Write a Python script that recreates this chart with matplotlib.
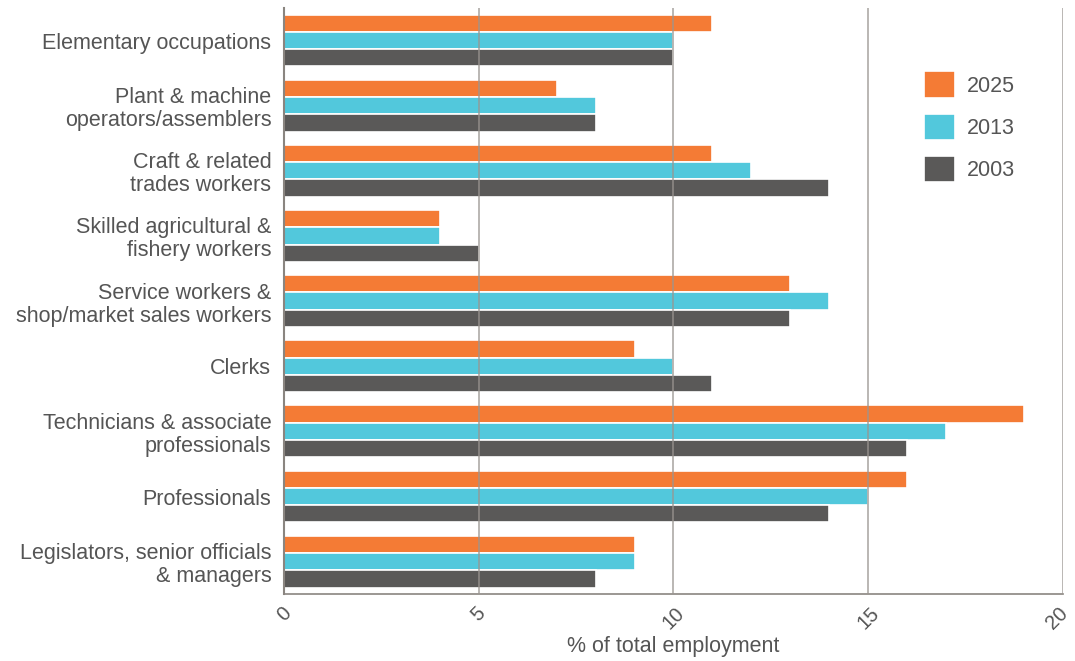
import numpy as np
import matplotlib.pyplot as plt
import matplotlib.transforms as mtransforms

categories = [
    "Elementary occupations",
    "Plant & machine\noperators/assemblers",
    "Craft & related\ntrades workers",
    "Skilled agricultural &\nfishery workers",
    "Service workers &\nshop/market sales workers",
    "Clerks",
    "Technicians & associate\nprofessionals",
    "Professionals",
    "Legislators, senior officials\n& managers",
]
years = ["2025", "2013", "2003"]
vals_2025 = [11, 7, 11, 4, 13, 9, 19, 16, 9]
vals_2013 = [10, 8, 12, 4, 14, 10, 17, 15, 9]
vals_2003 = [10, 8, 14, 5, 13, 11, 16, 14, 8]
colors = ["#F47B35", "#52C8DC", "#5A5958"]

plt.rcParams['font.family'] = ['Liberation Sans', 'DejaVu Sans']
text_col = "#555555"
fs = 15.5

fig = plt.figure(figsize=(10.75, 6.61), dpi=100)
ax = fig.add_axes([0.264, 0.101, 0.725, 0.887])

y = np.arange(len(categories))
pitch = 0.265
for k, (vals, c, lab) in enumerate(zip([vals_2025, vals_2013, vals_2003], colors, years)):
    ax.barh(y + (k - 1) * pitch, vals, height=pitch, color=c, edgecolor="white",
            linewidth=1.2, label=lab, zorder=2)

ax.set_ylim(len(categories) - 0.5, -0.5)
ax.set_xlim(0, 20)
ax.set_xticks([0, 5, 10, 15, 20])
ax.set_yticks(y)
ax.set_yticklabels(categories, fontsize=fs, color=text_col, linespacing=1.12)
ax.tick_params(axis='y', length=0, pad=9)
ax.tick_params(axis='x', length=0, pad=7, labelsize=14.5, labelcolor=text_col)
xlabels = ax.get_xticklabels()
for lbl in xlabels:
    lbl.set_rotation(45)
    lbl.set_ha('center')
    lbl.set_va('top')
# nudge the last tick label so it stays inside the figure
shift = mtransforms.ScaledTranslation(-6 / 100, 0, fig.dpi_scale_trans)
xlabels[-1].set_transform(xlabels[-1].get_transform() + shift)

ax.grid(axis='x', color="#9a9590", linewidth=1.2, zorder=3, alpha=0.8)
ax.set_axisbelow(False)
for s in ['top', 'right']:
    ax.spines[s].set_visible(False)
ax.spines['left'].set_color("#8a8580")
ax.spines['left'].set_linewidth(1.5)
ax.spines['bottom'].set_color("#8a8580")
ax.spines['bottom'].set_linewidth(1.2)
ax.spines['left'].set_zorder(4)

ax.set_xlabel("% of total employment", fontsize=fs, color=text_col, labelpad=2)

leg = ax.legend(loc='upper left', bbox_to_anchor=(0.796, 0.925), frameon=False,
                fontsize=fs, handlelength=1.45, handleheight=1.5, labelspacing=0.75,
                handletextpad=0.55)
for t in leg.get_texts():
    t.set_color(text_col)

fig.savefig("out.png", dpi=100)
